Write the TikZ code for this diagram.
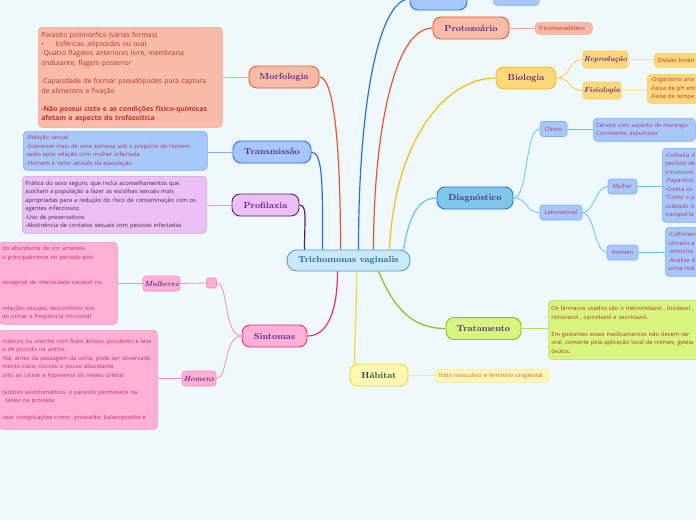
\documentclass[tikz,border=0pt]{standalone}
\usepackage{fontspec}
\newfontfamily\detf{Open Sans}
\usetikzlibrary{positioning,calc}
\definecolor{bgc}{HTML}{EEF8FD}
\definecolor{cenfill}{HTML}{C9E9FA}
\definecolor{cenline}{HTML}{4D9FDB}
\definecolor{centxt}{HTML}{1A5F94}
\definecolor{orng}{HTML}{E9572B}
\definecolor{salm}{HTML}{F8BBA7}
\definecolor{salmln}{HTML}{F3A48C}
\definecolor{redtxt}{HTML}{B8332E}
\definecolor{blueln}{HTML}{2E6FDF}
\definecolor{bluef}{HTML}{A6C7F9}
\definecolor{bluedln}{HTML}{82ACF2}
\definecolor{magtxt}{HTML}{C0306E}
\definecolor{purln}{HTML}{5C1B70}
\definecolor{purf}{HTML}{EBBEF6}
\definecolor{purdln}{HTML}{CE9DE3}
\definecolor{pinkln}{HTML}{EE2A7B}
\definecolor{pinkf}{HTML}{FFB1D5}
\definecolor{pinksub}{HTML}{F58CBF}
\definecolor{yelln}{HTML}{EFD92A}
\definecolor{yelf}{HTML}{FFF7B3}
\definecolor{yeldln}{HTML}{FDEA8A}
\definecolor{grnln}{HTML}{8FBC1E}
\definecolor{grnf}{HTML}{D6F47E}
\definecolor{grndln}{HTML}{B5DE5A}
\definecolor{diagln}{HTML}{64C6F0}
\definecolor{diagf}{HTML}{7EC7E6}
\definecolor{bioln}{HTML}{FDB913}
\definecolor{biof}{HTML}{FFD87B}
\definecolor{biodln}{HTML}{FFC94D}
\definecolor{labtxt}{HTML}{5B2290}
\definecolor{habtxt}{HTML}{1D4B39}
\tikzset{
  topic/.style={draw,line width=0.9pt,rounded corners=8pt,minimum height=22pt,inner sep=1pt,
    font=\fontsize{8.8}{10}\selectfont\bfseries,text=labtxt},
  note/.style={draw,line width=0.6pt,rounded corners=4pt,align=left,inner xsep=3pt,inner ysep=0pt,
    anchor=north west,font=\detf\fontsize{5.8}{8.5}\selectfont},
  subt/.style={draw,line width=0.6pt,rounded corners=3pt,minimum height=15pt,inner sep=1pt,
    font=\detf\fontsize{5.8}{7}\selectfont,text=magtxt},
  scr/.style={draw,line width=0.6pt,rounded corners=3pt,inner sep=1pt,
    font=\fontsize{7.5}{8}\selectfont\itshape\bfseries,text=labtxt},
  br/.style={line width=1.2pt},
  tw/.style={line width=0.8pt},
}
\begin{document}
\begin{tikzpicture}[x=1pt,y=-1pt]
\useasboundingbox (0,0) rectangle (696,520);
\clip (0,0) rectangle (696,520);
\fill[bgc] (0,0) rectangle (696,520);
% centre
\node[topic,fill=cenfill,draw=cenline,text=centxt,minimum width=123pt,minimum height=21pt,rounded corners=10pt] (tv) at (348.5,260.5) {Trichomonas vaginalis};
% left side
\node[topic,fill=salm,draw=orng,minimum width=70pt] (m) at (284,77) {Morfologia};
\node[note,fill=salm,draw=salmln,text=redtxt,text width=178pt,minimum height=100pt,font=\detf\fontsize{6.9}{9.3}\selectfont] (md) at (38,27) {Parasito polimórfico (várias formas)\\
•\hspace{12pt}Esféricas ,elipsoides ou oval\\
-Quatro flagelos anteriores livre, membrana\\ondulante, flagelo posterior\\[9.3pt]
-Capacidade de formar pseudópodes para captura\\de alimentos e fixação\\[9.3pt]
\textbf{-Não possui cisto e as condições físico-químicas}\\\textbf{afetam o aspecto do trofozoítica}};
\node[topic,fill=bluef,draw=blueln,minimum width=78pt] (t) at (272,152) {Transmissão};
\node[note,fill=bluef,draw=bluedln,text=magtxt,text width=178pt,minimum height=39pt] (td) at (23,131) {-Relação sexual\\
-Sobrevive mais de uma semana sob o prepúcio do homem\\sadio após relação com mulher infectada\\
-Homem é vetor através da ejaculação};
\node[topic,fill=purf,draw=purln,minimum width=67pt] (p) at (265.5,205) {Profilaxia};
\node[note,fill=purf,draw=purdln,text=black!80,text width=178pt,minimum height=57pt] (pd) at (22,176) {Prática do sexo seguro, que inclui aconselhamentos que\\
auxiliam a população a fazer as escolhas sexuais mais\\apropriadas para a redução do risco de contaminação com os\\agentes infecciosos;\\
-Uso de preservativos\\-Abstinência de contatos sexuais com pessoas infectadas};
\node[topic,fill=pinkf,draw=pinkln,minimum width=65pt] (s) at (274.5,336) {Sintomas};
\node[draw=pinksub,fill=pinkf,line width=0.6pt,rounded corners=2pt,minimum size=10pt,inner sep=0pt] (sq) at (211.5,283) {};
\node[scr,fill=pinkf,draw=pinksub,minimum width=37pt,minimum height=15pt] (mu) at (161.5,283.5) {Mulheres};
\node[note,fill=pinkf,draw=pinksub,text=magtxt,text width=112pt,minimum height=82pt] (mud) at (-1,242) {do abundante de cor amarelo-\\o principalmente no período pós-\\[17pt]
vovaginal de intensidade variável no\\[17pt]
relações sexuais, desconforto nos\\ao urinar e frequência miccional};
\node[scr,fill=pinkf,draw=pinksub,minimum width=34pt,minimum height=15pt] (ho) at (199,378.5) {Homens};
\node[note,fill=pinkf,draw=pinksub,text=magtxt,text width=152pt,minimum height=99pt] (hod) at (-1,330) {máticos ou uretrite com fluxo leitoso, purulento e leve\\
o de prurido na uretra.\\rhã, antes da passagem da urina, pode ser observado\\mento claro, viscoso e pouco abundante\\orto ao urinar e hiperemia do meato uretral\\[8.5pt]
tadores assintomáticos, o parasito permanece na\\\hspace*{3pt}talvez na próstata\\[8.5pt]
usar complicações como: prostatite, balanopostite e};
% bottom
\node[topic,fill=yelf,draw=yelln,text=habtxt,minimum width=58pt] (h) at (379,375) {Hábitat};
\node[note,fill=yelf,draw=yeldln,text=redtxt!80,text width=108pt,minimum height=13pt] (hd) at (435,369) {Trato masculino e feminino urogenital};
\node[topic,fill=grnf,draw=grnln,minimum width=75pt] (tr) at (483.5,328.5) {Tratamento};
\node[note,fill=grnf,draw=grndln,text=redtxt,text width=170pt,minimum height=59pt] (trd) at (548,300) {Os fármacos usados são o metronidazol , tinidazol ,\\nimorazol , carnidazol e secnidazol.\\[8.5pt]
Em gestantes esses medicamentos não devem ser\\oral, somente pela aplicação local de cremes, geleia\\óvulos.};
% right side
\node[topic,fill=diagf,draw=blueln,minimum width=76pt] (d) at (475,198) {Diagnóstico};
\node[subt,fill=bluef,draw=bluedln,minimum width=27pt] (cl) at (553.5,129) {Clínico};
\node[note,fill=bluef,draw=bluedln,text=magtxt,text width=96pt,minimum height=23pt] (cld) at (593,118) {Cérvice com aspecto de morango\\Corrimento espumoso};
\node[subt,fill=bluef,draw=bluedln,minimum width=42pt] (lab) at (561,212.5) {Laboratorial};
\node[subt,fill=bluef,draw=bluedln,minimum width=29pt] (mh) at (622.5,186.5) {Mulher};
\node[note,fill=bluef,draw=bluedln,text=magtxt,text width=60pt,minimum height=74pt] (mhd) at (662,148) {-Colheita d\\período de\\tricomonic\\-Papanicol\\-Coleta co\\"Como o p\\coletado d\\transporta};
\node[subt,fill=bluef,draw=bluedln,minimum width=31pt] (hm) at (622.5,252.5) {Homem};
\node[note,fill=bluef,draw=bluedln,text=magtxt,text width=60pt,minimum height=49pt] (hmd) at (665,227) {-Colhimen\\urinado e\\-Amostra\\-Análise d\\urina mat};
\node[topic,fill=biof,draw=bioln,minimum width=60pt] (b) at (526,78) {Biologia};
\node[scr,fill=biof,draw=biodln,minimum width=45pt,minimum height=17pt] (rep) at (605.5,59.5) {Reprodução};
\node[note,fill=biof,draw=biodln,text=redtxt,text width=60pt,minimum height=14pt] (repd) at (654,53) {Divisão binári};
\node[scr,fill=biof,draw=biodln,minimum width=38pt,minimum height=17pt] (fis) at (602,90.5) {Fisiologia};
\node[note,fill=biof,draw=biodln,text=redtxt,text width=60pt,minimum height=29pt] (fisd) at (647,74) {-Organismo ana\\-Faixa de pH ent\\-Faixa de tempe};
\node[topic,fill=salm,draw=orng,minimum width=76pt] (pr) at (471,28) {Protozoário};
\node[note,fill=salm,draw=salmln,text=redtxt,text width=51pt,minimum height=12pt] (prd) at (535,22) {Tricomonadídeos};
\node[topic,fill=bluef,draw=blueln,minimum width=57pt] (ev) at (438.5,-1) {};
\node[note,fill=bluef,draw=bluedln,text width=40pt,minimum height=15pt] (evd) at (493,-10) {};
% main branches
\draw[br,orng] ([xshift=-8pt]tv.north) .. controls +(0,-100) and +(15,0) .. (m.east);
\draw[br,blueln] ([xshift=-26pt]tv.north) .. controls +(0,-60) and +(12,0) .. (t.east);
\draw[br,purln] ([xshift=-44pt]tv.north) .. controls +(0,-30) and +(8,0) .. (p.east);
\draw[br,blueln] ([xshift=10pt]tv.north) .. controls +(0,-150) and +(-30,0) .. (ev.west);
\draw[br,orng] ([xshift=25pt]tv.north) .. controls +(0,-110) and +(-40,0) .. (pr.west);
\draw[br,bioln] ([xshift=41pt]tv.north) .. controls +(5,-110) and +(-50,0) .. (b.west);
\draw[br,diagln] ([xshift=55pt]tv.north) .. controls +(5,-30) and +(-20,0) .. (d.west);
\draw[br,pinkln] ([xshift=-11pt]tv.south) .. controls +(0,40) and +(20,0) .. (s.east);
\draw[br,yelln] ([xshift=8pt]tv.south) .. controls +(0,50) and +(0,-30) .. (h.155);
\draw[br,grnln] ([xshift=30pt]tv.south) .. controls +(15,35) and +(-35,0) .. (tr.west);
% notes and sub topics
\draw[tw,salmln] (m.west) -- (m.west -| md.east);
\draw[tw,bluedln] (t.west) -- (t.west -| td.east);
\draw[tw,purdln] (p.west) -- (p.west -| pd.east);
\draw[tw,pinksub] (s.west) .. controls +(-18,0) and +(12,0) .. (sq.east);
\draw[tw,pinksub] (s.west) .. controls +(-18,0) and +(12,0) .. (ho.east);
\draw[tw,pinksub] (sq.west) -- (mu.east);
\draw[tw,pinksub] (mu.west) -- (mu.west -| mud.east);
\draw[tw,pinksub] (ho.west) -- (ho.west -| hod.east);
\draw[tw,yeldln] (h.east) -- (h.east -| hd.west);
\draw[tw,grndln] (tr.east) -- (tr.east -| trd.west);
\draw[tw,diagln] (d.east) .. controls +(15,0) and +(-15,0) .. (cl.west);
\draw[tw,diagln] (d.east) .. controls +(15,0) and +(-15,0) .. (lab.west);
\draw[tw,diagln] (cl.east) -- (cl.east -| cld.west);
\draw[tw,diagln] (lab.east) .. controls +(12,0) and +(-12,0) .. (mh.west);
\draw[tw,diagln] (lab.east) .. controls +(12,0) and +(-12,0) .. (hm.west);
\draw[tw,diagln] (mh.east) -- (mh.east -| mhd.west);
\draw[tw,diagln] (hm.east) -- (hm.east -| hmd.west);
\draw[tw,biodln] (b.east) .. controls +(15,0) and +(-15,0) .. (rep.west);
\draw[tw,biodln] (b.east) .. controls +(15,0) and +(-15,0) .. (fis.west);
\draw[tw,biodln!60] (rep.east) -- (rep.east -| repd.west);
\draw[tw,biodln!60] (fis.east) -- (fis.east -| fisd.west);
\draw[tw,salmln] (pr.east) -- (pr.east -| prd.west);
\end{tikzpicture}
\end{document}
